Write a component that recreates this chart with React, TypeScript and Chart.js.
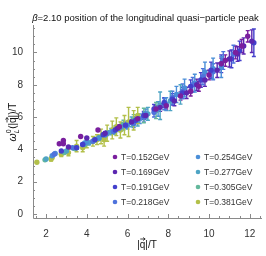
import React, { useEffect, useRef } from 'react';
import { Chart, registerables } from 'chart.js';

Chart.register(...registerables);

// ---- data ----
const seriesLabels = ['T=0.152GeV', 'T=0.169GeV', 'T=0.191GeV', 'T=0.218GeV', 'T=0.254GeV', 'T=0.277GeV', 'T=0.305GeV', 'T=0.381GeV'];
const seriesColors = ['#7a1f9e', '#5c27b0', '#4440cc', '#4f73dc', '#4b8fd8', '#4ea4c4', '#64b89c', '#b3c04a'];

const x152 = [2.65, 2.85, 2.85, 3.7, 4.55, 5.6, 6.5, 7.4, 7.9, 8.6, 9.1, 9.5, 10.0, 10.6, 10.8, 11.3, 11.6, 11.9];
const y152 = [4.35, 4.55, 4.35, 4.8, 5.2, 5.4, 5.9, 6.5, 6.7, 7.3, 7.6, 7.9, 8.6, 9.3, 9.5, 10.0, 10.4, 11.0];
const e152 = [0.05, 0.05, 0.05, 0.05, 0.08, 0.12, 0.15, 0.2, 0.2, 0.25, 0.3, 0.3, 0.3, 0.35, 0.35, 0.4, 0.4, 0.35];

const x169 = [3.1, 4.0, 4.9, 5.5, 6.2, 6.9, 7.6, 8.3, 8.9, 9.4, 9.8, 10.4, 11.0, 11.4, 11.7, 12.1];
const y169 = [4.15, 4.7, 5.0, 5.3, 5.7, 6.1, 6.6, 7.0, 7.5, 8.0, 8.3, 8.9, 9.6, 9.9, 10.4, 10.7];
const e169 = [0.05, 0.06, 0.1, 0.12, 0.15, 0.2, 0.25, 0.3, 0.35, 0.35, 0.4, 0.45, 0.5, 0.45, 0.5, 0.7];

const x191 = [2.75, 3.5, 3.8, 4.4, 4.8, 5.4, 5.9, 6.4, 6.8, 7.3, 7.8, 8.2, 8.7, 9.1, 9.6, 10.1, 10.6, 11.1, 11.5, 12.2];
const y191 = [3.9, 4.1, 4.3, 4.6, 4.9, 5.2, 5.5, 5.8, 6.1, 6.5, 6.9, 7.1, 7.5, 7.9, 8.3, 8.9, 9.3, 9.6, 10.1, 10.6];
const e191 = [0.05, 0.05, 0.06, 0.08, 0.1, 0.12, 0.15, 0.2, 0.25, 0.28, 0.3, 0.35, 0.35, 0.4, 0.45, 0.5, 0.55, 0.55, 0.6, 0.85];

const x218 = [2.4, 3.3, 3.8, 4.3, 4.9, 5.3, 5.9, 6.3, 6.8, 7.3, 7.8, 8.2, 8.7, 9.2, 9.7, 10.2, 10.7, 11.2];
const y218 = [3.7, 4.1, 4.3, 4.5, 4.9, 5.1, 5.5, 5.6, 6.0, 6.3, 6.8, 7.2, 7.6, 8.0, 8.5, 8.8, 9.5, 9.9];
const e218 = [0.05, 0.06, 0.08, 0.1, 0.12, 0.15, 0.2, 0.25, 0.3, 0.3, 0.35, 0.4, 0.45, 0.45, 0.5, 0.5, 0.55, 0.55];

const x254 = [2.3, 2.45, 3.9, 4.0, 4.6, 5.0, 5.6, 6.0, 6.6, 6.9, 7.5, 7.9, 8.4, 8.8, 9.3, 9.8, 10.2, 10.6];
const y254 = [3.6, 3.75, 4.4, 4.45, 4.7, 5.0, 5.3, 5.5, 5.9, 6.2, 6.5, 6.8, 7.4, 7.8, 8.1, 8.8, 9.0, 9.1];
const e254 = [0.05, 0.05, 0.08, 0.08, 0.12, 0.15, 0.2, 0.25, 0.3, 0.3, 0.45, 0.4, 0.5, 0.55, 0.55, 0.6, 0.65, 0.65];

const x277 = [2.0, 3.0, 3.5, 4.1, 4.6, 5.2, 5.7, 6.2, 6.5, 7.0, 7.6, 8.1, 8.6];
const y277 = [3.4, 3.9, 4.1, 4.4, 4.7, 5.1, 5.4, 5.7, 5.8, 6.2, 6.7, 7.0, 7.4];
const e277 = [0.05, 0.08, 0.1, 0.12, 0.15, 0.2, 0.25, 0.3, 0.35, 0.4, 0.85, 0.6, 0.6];

const x305 = [1.95, 2.9, 3.4, 3.9, 4.4, 4.9, 5.4, 5.8, 6.3, 6.8, 7.4];
const y305 = [3.35, 3.8, 4.05, 4.3, 4.6, 4.9, 5.2, 5.5, 5.8, 6.1, 6.4];
const e305 = [0.05, 0.08, 0.1, 0.12, 0.15, 0.2, 0.25, 0.3, 0.35, 0.45, 0.5];

const x381 = [1.55, 2.25, 2.3, 2.75, 3.1, 3.5, 3.8, 4.0, 4.3, 4.5, 4.7, 4.85, 5.0, 5.25, 5.45, 5.65, 5.85, 6.05, 6.3, 6.5];
const y381 = [3.2, 3.4, 3.5, 3.7, 3.8, 4.2, 4.1, 4.4, 4.5, 4.6, 4.8, 4.6, 5.0, 5.2, 5.4, 5.2, 5.5, 5.7, 5.8, 6.1];
const e381 = [0.05, 0.12, 0.1, 0.15, 0.2, 0.35, 0.25, 0.3, 0.3, 0.3, 0.45, 0.4, 0.5, 0.55, 0.55, 0.5, 0.6, 0.9, 0.6, 0.5];

const seriesX = [x152, x169, x191, x218, x254, x277, x305, x381];
const seriesY = [y152, y169, y191, y218, y254, y277, y305, y381];
const seriesE = [e152, e169, e191, e218, e254, e277, e305, e381];

const xTicks = [2, 4, 6, 8, 10, 12];
const yTicks = [0, 2, 4, 6, 8, 10];
const xRange = [1.36, 12.6];
const yRange = [-0.25, 11.7];
const titleBeta = '\u03B2';
const titleRest = '=2.10 position of the longitudinal quasi\u2212particle peak';

const FONT = '"Liberation Sans", Arial, sans-serif';
const AXIS_COLOR = '#8a8a8a';
const TEXT_COLOR = '#333333';

const errorBarPlugin = {
  id: 'errorBars',
  beforeDatasetsDraw(chart: any) {
    const { ctx } = chart;
    const xs = chart.scales.x;
    const ys = chart.scales.y;
    chart.data.datasets.forEach((ds: any) => {
      ctx.save();
      ctx.strokeStyle = ds.borderColor;
      ctx.lineWidth = 1.4;
      ds.data.forEach((p: any, i: number) => {
        const e = ds.errors[i];
        const px = xs.getPixelForValue(p.x);
        const top = ys.getPixelForValue(p.y + e);
        const bot = ys.getPixelForValue(p.y - e);
        if (bot - top < 3) return;
        ctx.beginPath();
        ctx.moveTo(px, top);
        ctx.lineTo(px, bot);
        ctx.moveTo(px - 2, top);
        ctx.lineTo(px + 2, top);
        ctx.moveTo(px - 2, bot);
        ctx.lineTo(px + 2, bot);
        ctx.stroke();
      });
      ctx.restore();
    });
  },
};

function drawArrow(ctx: CanvasRenderingContext2D, x0: number, x1: number, y: number) {
  ctx.save();
  ctx.strokeStyle = '#111';
  ctx.lineWidth = 0.8;
  ctx.beginPath();
  ctx.moveTo(x0, y);
  ctx.lineTo(x1, y);
  ctx.moveTo(x1 - 2, y - 1.5);
  ctx.lineTo(x1, y);
  ctx.lineTo(x1 - 2, y + 1.5);
  ctx.stroke();
  ctx.restore();
}

const framePlugin = {
  id: 'frame',
  afterDraw(chart: any) {
    const { ctx, chartArea } = chart;
    const xs = chart.scales.x;
    const ys = chart.scales.y;
    const { left, right, top, bottom } = chartArea;
    ctx.save();
    ctx.strokeStyle = AXIS_COLOR;
    ctx.lineWidth = 1;
    ctx.beginPath();
    ctx.moveTo(left + 0.5, top);
    ctx.lineTo(left + 0.5, bottom + 0.5);
    ctx.lineTo(right, bottom + 0.5);
    ctx.stroke();
    ctx.beginPath();
    for (let v = 1.5; v <= 12.5 + 1e-9; v += 0.5) {
      const px = Math.round(xs.getPixelForValue(v)) + 0.5;
      const major = Math.abs(v / 2 - Math.round(v / 2)) < 1e-6;
      const len = major ? 4 : 2;
      ctx.moveTo(px, bottom);
      ctx.lineTo(px, bottom - len);
    }
    for (let v = 0; v <= 11.5 + 1e-9; v += 0.5) {
      const py = Math.round(ys.getPixelForValue(v)) + 0.5;
      const major = Math.abs(v / 2 - Math.round(v / 2)) < 1e-6;
      const len = major ? 4 : 2;
      ctx.moveTo(left, py);
      ctx.lineTo(left + len, py);
    }
    ctx.stroke();
    ctx.restore();

    // legend
    ctx.save();
    ctx.font = `8.5px ${FONT}`;
    ctx.textBaseline = 'middle';
    const rows = [157, 172, 187, 202];
    const cols = [115, 198];
    chart.data.datasets.forEach((ds: any, i: number) => {
      const cx = cols[Math.floor(i / 4)];
      const cy = rows[i % 4];
      ctx.fillStyle = ds.backgroundColor;
      ctx.beginPath();
      ctx.arc(cx, cy, 2.3, 0, Math.PI * 2);
      ctx.fill();
      ctx.fillStyle = TEXT_COLOR;
      ctx.fillText(ds.label, cx + 6, cy + 0.5);
    });
    ctx.restore();

    // title
    ctx.save();
    ctx.fillStyle = '#111';
    ctx.textBaseline = 'alphabetic';
    ctx.font = `italic 9.5px ${FONT}`;
    const wb = ctx.measureText(titleBeta).width;
    ctx.font = `9.5px ${FONT}`;
    const wr = ctx.measureText(titleRest).width;
    const tx = 145.5 - (wb + wr) / 2;
    ctx.font = `italic 9.5px ${FONT}`;
    ctx.fillText(titleBeta, tx, 21);
    ctx.font = `9.5px ${FONT}`;
    ctx.fillText(titleRest, tx + wb, 21);
    ctx.restore();

    // x label
    ctx.save();
    ctx.fillStyle = '#111';
    ctx.font = `10px ${FONT}`;
    const w1 = ctx.measureText('|').width;
    const wq = ctx.measureText('q').width;
    const w2 = ctx.measureText('|/T').width;
    const sx = 147 - (w1 + wq + w2) / 2;
    const by = 248;
    ctx.fillText('|', sx, by);
    ctx.fillText('q', sx + w1, by);
    drawArrow(ctx, sx + w1 + 0.5, sx + w1 + wq - 0.2, by - 9);
    ctx.fillText('|/T', sx + w1 + wq, by);
    ctx.restore();

    // y label (rotated)
    ctx.save();
    ctx.translate(16, 122);
    ctx.rotate(-Math.PI / 2);
    ctx.fillStyle = '#111';
    ctx.font = `italic 10.5px ${FONT}`;
    const ww = ctx.measureText('\u03C9').width;
    ctx.font = `italic 7px ${FONT}`;
    const wL = ctx.measureText('L').width;
    ctx.font = `7px ${FONT}`;
    const w0 = ctx.measureText('0').width;
    ctx.font = `10px ${FONT}`;
    const wa = ctx.measureText('(|').width;
    const wq2 = ctx.measureText('q').width;
    const wb2 = ctx.measureText('|)/T').width;
    const total = ww + Math.max(wL, w0) + 0.5 + wa + wq2 + wb2;
    let cx = -total / 2;
    ctx.font = `italic 10.5px ${FONT}`;
    ctx.fillText('\u03C9', cx, 0);
    cx += ww;
    ctx.font = `italic 7px ${FONT}`;
    ctx.fillText('L', cx, 2.5);
    ctx.font = `7px ${FONT}`;
    ctx.fillText('0', cx, -5);
    cx += Math.max(wL, w0) + 0.5;
    ctx.font = `10px ${FONT}`;
    ctx.fillText('(|', cx, 0);
    cx += wa;
    ctx.fillText('q', cx, 0);
    drawArrow(ctx, cx + 0.5, cx + wq2 - 0.2, -9);
    cx += wq2;
    ctx.fillText('|)/T', cx, 0);
    ctx.restore();
  },
};

export default function App() {
  const ref = useRef<HTMLCanvasElement | null>(null);
  useEffect(() => {
    document.body.style.margin = '0';
    const canvas = ref.current;
    if (!canvas) return;
    const datasets = seriesLabels.map((label, i) => ({
      label,
      data: seriesX[i].map((x, j) => ({ x, y: seriesY[i][j] })),
      errors: seriesE[i],
      backgroundColor: seriesColors[i],
      borderColor: seriesColors[i],
      borderWidth: 0,
      pointRadius: 2.7,
      pointHoverRadius: 2.7,
      showLine: false,
    }));
    const chart = new Chart(canvas, {
      type: 'scatter',
      data: { datasets: datasets as any },
      options: {
        animation: false,
        responsive: false,
        maintainAspectRatio: false,
        layout: { padding: { left: 0, top: 25, right: 4, bottom: 0 } },
        plugins: { legend: { display: false }, tooltip: { enabled: false }, title: { display: false } },
        scales: {
          x: {
            type: 'linear',
            min: xRange[0],
            max: xRange[1],
            grid: { display: false },
            border: { display: false },
            afterBuildTicks: (s: any) => { s.ticks = xTicks.map((v) => ({ value: v })); },
            afterFit: (s: any) => { s.height = 38; },
            ticks: { font: { family: FONT, size: 10 }, color: TEXT_COLOR, padding: 2, maxRotation: 0, autoSkip: false },
          },
          y: {
            type: 'linear',
            min: yRange[0],
            max: yRange[1],
            grid: { display: false },
            border: { display: false },
            afterBuildTicks: (s: any) => { s.ticks = yTicks.map((v) => ({ value: v })); },
            afterFit: (s: any) => { s.width = 33; },
            ticks: { font: { family: FONT, size: 10 }, color: TEXT_COLOR, padding: 2, autoSkip: false },
          },
        },
      },
      plugins: [errorBarPlugin, framePlugin],
    });
    return () => chart.destroy();
  }, []);
  return (
    <div style={{ position: 'absolute', left: 0, top: 0, width: 266, height: 256, background: '#fff' }}>
      <canvas ref={ref} width={266} height={256} style={{ width: 266, height: 256, display: 'block' }} />
    </div>
  );
}
